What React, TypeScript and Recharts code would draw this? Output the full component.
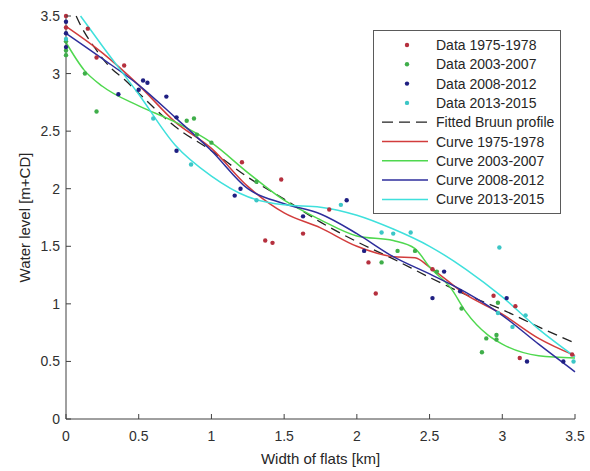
import React from 'react';
import { ComposedChart, Line, Scatter, XAxis, YAxis } from 'recharts';

type Pt = { x: number; y: number };
const pts = (arr: number[][]): Pt[] => arr.map(([x, y]) => ({ x, y }));

const xTicks = [0, 0.5, 1, 1.5, 2, 2.5, 3, 3.5];
const yTicks = [0, 0.5, 1, 1.5, 2, 2.5, 3, 3.5];

// measured points
const data1975 = pts([
  [0, 3.5], [0, 3.4], [0.15, 3.39], [0.21, 3.14], [0.4, 3.07], [1.21, 2.23], [1.48, 2.08],
  [1.37, 1.55], [1.42, 1.53], [1.63, 1.61], [1.81, 1.82], [2.08, 1.36], [2.13, 1.09],
  [2.52, 1.3], [2.94, 1.07], [3.09, 0.98], [3.12, 0.53], [3.48, 0.56],
]);
const data2003 = pts([
  [0, 3.28], [0, 3.2], [0, 3.16], [0.13, 3.0], [0.21, 2.67], [0.83, 2.59], [0.88, 2.61],
  [0.9, 2.47], [1.0, 2.4], [1.31, 2.06], [2.17, 1.36], [2.28, 1.46], [2.4, 1.46], [2.55, 1.28],
  [2.72, 0.96], [2.86, 0.58], [2.89, 0.7], [2.96, 0.73], [2.96, 0.69], [2.97, 1.01],
]);
const data2008 = pts([
  [0, 3.45], [0, 3.35], [0, 3.23], [0.36, 2.82], [0.5, 2.86], [0.53, 2.94], [0.56, 2.92],
  [0.69, 2.8], [0.76, 2.62], [0.76, 2.33], [1.16, 1.94], [1.2, 2.0], [1.63, 1.76], [1.93, 1.9],
  [2.05, 1.46], [2.52, 1.05], [2.6, 1.28], [2.71, 1.11], [3.03, 1.05], [3.17, 0.5], [3.42, 0.5],
]);
const data2013 = pts([
  [0, 3.3], [0.6, 2.61], [0.86, 2.21], [1.31, 1.9], [1.89, 1.86], [2.17, 1.62], [2.25, 1.61],
  [2.37, 1.62], [2.97, 0.92], [2.98, 1.49], [3.07, 0.8], [3.16, 0.9], [3.49, 0.5],
]);

// fitted curves
const bruun = pts([
  [0.07, 3.5], [0.1, 3.42], [0.2, 3.22], [0.3, 3.06], [0.4, 2.95], [0.5, 2.83], [0.75, 2.54],
  [1.0, 2.33], [1.25, 2.1], [1.5, 1.91], [1.75, 1.71], [2.0, 1.54], [2.25, 1.39], [2.5, 1.23],
  [2.75, 1.08], [3.0, 0.95], [3.25, 0.8], [3.5, 0.66],
]);
const curve1975 = pts([
  [0, 3.41], [0.25, 3.18], [0.5, 2.9], [0.75, 2.58], [1.0, 2.35], [1.25, 2.02], [1.5, 1.79],
  [1.75, 1.66], [2.0, 1.5], [2.25, 1.41], [2.4, 1.4], [2.5, 1.32], [2.75, 1.08], [3.0, 0.91],
  [3.25, 0.7], [3.5, 0.55],
]);
const curve2003 = pts([
  [0, 3.27], [0.125, 3.03], [0.25, 2.89], [0.5, 2.72], [0.75, 2.58], [1.0, 2.4], [1.25, 2.14],
  [1.5, 1.9], [1.75, 1.73], [2.0, 1.59], [2.25, 1.55], [2.4, 1.48], [2.5, 1.32], [2.65, 1.13],
  [2.75, 0.93], [2.9, 0.73], [3.0, 0.65], [3.25, 0.55], [3.5, 0.53],
]);
const curve2008 = pts([
  [0, 3.35], [0.25, 3.13], [0.5, 2.9], [0.75, 2.62], [1.0, 2.33], [1.25, 2.0], [1.5, 1.87],
  [1.75, 1.78], [2.0, 1.61], [2.25, 1.41], [2.5, 1.26], [2.75, 1.1], [3.0, 0.9], [3.25, 0.65],
  [3.5, 0.41],
]);
const curve2013 = pts([
  [0.1, 3.5], [0.25, 3.24], [0.5, 2.82], [0.75, 2.38], [1.0, 2.11], [1.25, 1.93], [1.5, 1.86],
  [1.75, 1.84], [2.0, 1.77], [2.25, 1.65], [2.5, 1.5], [2.75, 1.3], [3.0, 1.06], [3.25, 0.78],
  [3.5, 0.54],
]);

const C = {
  red: '#d23c3c', redDot: '#b5303e',
  green: '#4fd84f', greenDot: '#3fae4a',
  blue: '#2e2e9c', blueDot: '#1f1f82',
  cyan: '#3fe0dc', cyanDot: '#3cc6c6',
};

const legendItems = [
  { label: 'Data 1975-1978', color: C.redDot, kind: 'dot' },
  { label: 'Data 2003-2007', color: C.greenDot, kind: 'dot' },
  { label: 'Data 2008-2012', color: C.blueDot, kind: 'dot' },
  { label: 'Data 2013-2015', color: C.cyanDot, kind: 'dot' },
  { label: 'Fitted Bruun profile', color: '#222', kind: 'dash' },
  { label: 'Curve 1975-1978', color: C.red, kind: 'line' },
  { label: 'Curve 2003-2007', color: C.green, kind: 'line' },
  { label: 'Curve 2008-2012', color: C.blue, kind: 'line' },
  { label: 'Curve 2013-2015', color: C.cyan, kind: 'line' },
];

const xTitle = 'Width of flats [km]';
const yTitle = 'Water level [m+CD]';

const FONT = '"Liberation Sans", Arial, Helvetica, sans-serif';
const AXIS = '#404040';

const dot = (color: string) => (props: any) =>
  <circle cx={props.cx} cy={props.cy} r={2.2} fill={color} />;

const XTick = (props: any) => {
  const { x, y, payload } = props;
  return (
    <g>
      <line x1={x} y1={y} x2={x} y2={y - 5} stroke={AXIS} />
      <text x={x} y={y + 22} textAnchor="middle" fontSize={14} fontFamily={FONT} fill="#303030">
        {payload.value}
      </text>
    </g>
  );
};

const YTick = (props: any) => {
  const { x, y, payload } = props;
  return (
    <g>
      <line x1={x} y1={y} x2={x + 5} y2={y} stroke={AXIS} />
      <text x={x - 6} y={y + 5} textAnchor="end" fontSize={14} fontFamily={FONT} fill="#303030">
        {payload.value}
      </text>
    </g>
  );
};

const XTitle = (props: any) => {
  const vb = props.viewBox;
  return (
    <text x={vb.x + vb.width / 2} y={vb.y + 45} textAnchor="middle" fontSize={15} fontFamily={FONT} fill="#262626">
      {xTitle}
    </text>
  );
};

const YTitle = (props: any) => {
  const vb = props.viewBox;
  const cx = 25;
  const cy = vb.y + vb.height / 2;
  return (
    <text x={cx} y={cy} transform={`rotate(-90 ${cx} ${cy})`} dy={5} textAnchor="middle" fontSize={15} fontFamily={FONT} fill="#262626">
      {yTitle}
    </text>
  );
};

const LegendBox = () => (
  <svg width={188} height={184} style={{ position: 'absolute', left: 373, top: 30 }}>
    <rect x={0.5} y={0.5} width={187} height={183} fill="#fff" stroke="#5a5a5a" />
    {legendItems.map((it, i) => {
      const cy = 15 + i * 19.3;
      return (
        <g key={it.label}>
          {it.kind === 'dot' && <circle cx={34} cy={cy} r={2.2} fill={it.color} />}
          {it.kind === 'dash' && (
            <line x1={9} y1={cy} x2={55} y2={cy} stroke={it.color} strokeWidth={1.3} strokeDasharray="11 6" />
          )}
          {it.kind === 'line' && (
            <line x1={9} y1={cy} x2={55} y2={cy} stroke={it.color} strokeWidth={1.5} />
          )}
          <text x={63} y={cy + 5} fontSize={14} fontFamily={FONT} fill="#262626">
            {it.label}
          </text>
        </g>
      );
    })}
  </svg>
);

export default function App() {
  return (
    <div style={{ position: 'absolute', left: 0, top: 0, width: 590, height: 471, background: '#fff' }}>
      <ComposedChart width={590} height={471} margin={{ top: 16, right: 15, bottom: 4, left: 16 }}>
        <XAxis
          type="number"
          dataKey="x"
          domain={[0, 3.5]}
          ticks={xTicks}
          tickSize={0}
          tickMargin={0}
          tick={XTick}
          height={48}
          stroke={AXIS}
          label={<XTitle />}
        />
        <YAxis
          type="number"
          dataKey="y"
          domain={[0, 3.5]}
          ticks={yTicks}
          tickSize={0}
          tickMargin={0}
          tick={YTick}
          width={50}
          stroke={AXIS}
          label={<YTitle />}
        />
        <Scatter data={data1975} shape={dot(C.redDot)} isAnimationActive={false} />
        <Scatter data={data2003} shape={dot(C.greenDot)} isAnimationActive={false} />
        <Scatter data={data2008} shape={dot(C.blueDot)} isAnimationActive={false} />
        <Scatter data={data2013} shape={dot(C.cyanDot)} isAnimationActive={false} />
        <Line data={bruun} dataKey="y" type="monotone" dot={false} stroke="#222" strokeWidth={1.3} strokeDasharray="10 6" isAnimationActive={false} />
        <Line data={curve1975} dataKey="y" type="monotone" dot={false} stroke={C.red} strokeWidth={1.5} isAnimationActive={false} />
        <Line data={curve2003} dataKey="y" type="monotone" dot={false} stroke={C.green} strokeWidth={1.5} isAnimationActive={false} />
        <Line data={curve2008} dataKey="y" type="monotone" dot={false} stroke={C.blue} strokeWidth={1.5} isAnimationActive={false} />
        <Line data={curve2013} dataKey="y" type="monotone" dot={false} stroke={C.cyan} strokeWidth={1.5} isAnimationActive={false} />
      </ComposedChart>
      <LegendBox />
    </div>
  );
}
